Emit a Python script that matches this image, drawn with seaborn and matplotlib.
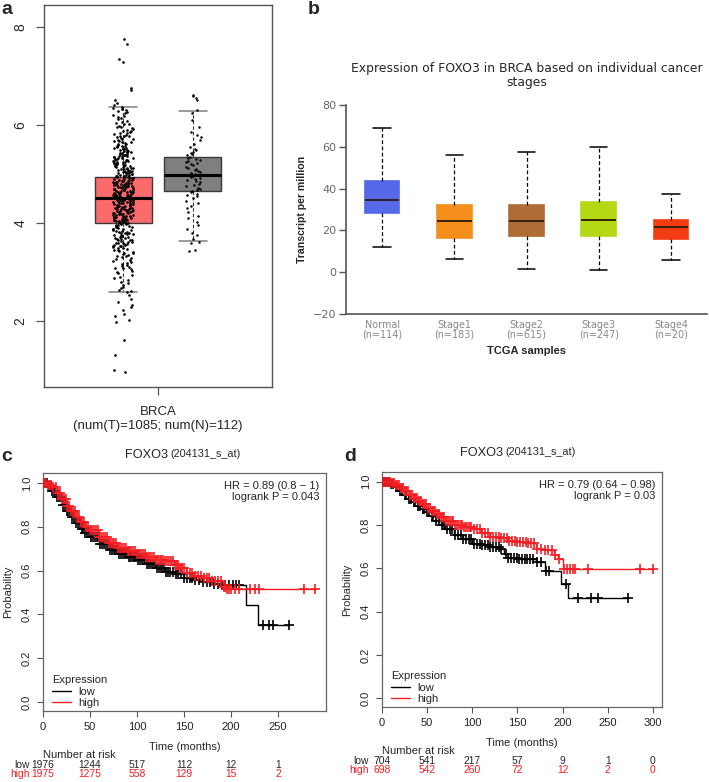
import numpy as np
import pandas as pd
import matplotlib
matplotlib.use("Agg")
import matplotlib.pyplot as plt
import matplotlib.transforms as mtransforms
import seaborn as sns

# ---------------- data ----------------
# panel a: GEPIA box plot (log2(TPM+1)), box stats = [whisker_lo, q1, median, q3, whisker_hi]
a_groups = ["Tumor", "Normal"]
a_colors = ["#fc6b6b", "#7f7f7f"]
tumor_box = [2.58, 4.00, 4.51, 4.94, 6.37]
normal_box = [3.63, 4.65, 4.98, 5.35, 6.29]
a_label = "BRCA\n(num(T)=1085; num(N)=112)"

tumor_pts = [
    7.75, 7.65, 7.35, 7.28, 6.75, 6.72, 6.52, 6.45, 6.41,
    6.37, 6.35, 6.33, 6.31, 6.28, 6.26, 6.24, 6.21, 6.19, 6.16, 6.14, 6.12, 6.09, 6.07, 6.05, 6.03, 6.01,
    5.98, 5.96, 5.95, 5.93, 5.91, 5.89, 5.87, 5.86, 5.84, 5.82, 5.80, 5.78, 5.77, 5.75, 5.73, 5.71, 5.70,
    5.68, 5.66, 5.65, 5.63, 5.61, 5.60, 5.58, 5.57, 5.55, 5.54, 5.52, 5.51,
    5.49, 5.48, 5.46, 5.45, 5.44, 5.42, 5.41, 5.40, 5.38, 5.37, 5.36, 5.34, 5.33, 5.32, 5.30, 5.29, 5.28,
    5.27, 5.25, 5.24, 5.23, 5.22, 5.20, 5.19, 5.18, 5.17, 5.16, 5.14, 5.13, 5.12, 5.11, 5.10, 5.08, 5.07,
    5.06, 5.05, 5.04, 5.03, 5.02, 5.01,
    4.99, 4.98, 4.97, 4.96, 4.95, 4.94, 4.94, 4.93, 4.92, 4.91, 4.90, 4.89, 4.88, 4.88, 4.87, 4.86, 4.85,
    4.84, 4.83, 4.82, 4.82, 4.81, 4.80, 4.79, 4.78, 4.77, 4.76, 4.76, 4.75, 4.74, 4.73, 4.72, 4.71, 4.70,
    4.70, 4.69, 4.68, 4.67, 4.66, 4.65, 4.64, 4.64, 4.63, 4.62, 4.61, 4.60, 4.59, 4.58, 4.58, 4.57, 4.56,
    4.55, 4.54, 4.53, 4.52, 4.52, 4.51, 4.50, 4.50,
    4.49, 4.48, 4.47, 4.46, 4.46, 4.45, 4.44, 4.43, 4.42, 4.41, 4.40, 4.40, 4.39, 4.38, 4.37, 4.36, 4.35,
    4.34, 4.34, 4.33, 4.32, 4.31, 4.30, 4.29, 4.28, 4.28, 4.27, 4.26, 4.25, 4.24, 4.23, 4.22, 4.21, 4.20,
    4.20, 4.19, 4.18, 4.17, 4.16, 4.15, 4.14, 4.13, 4.12, 4.11, 4.10, 4.09, 4.08, 4.07, 4.06, 4.05, 4.04,
    4.03, 4.02, 4.01, 4.00,
    3.99, 3.98, 3.96, 3.95, 3.94, 3.92, 3.91, 3.90, 3.88, 3.87, 3.86, 3.84, 3.83, 3.82, 3.80, 3.79, 3.77,
    3.76, 3.75, 3.73, 3.72, 3.70, 3.69, 3.68, 3.66, 3.65, 3.63, 3.62, 3.60, 3.59, 3.57, 3.56, 3.55, 3.53,
    3.52, 3.50,
    3.48, 3.46, 3.45, 3.43, 3.41, 3.39, 3.37, 3.35, 3.33, 3.31, 3.29, 3.27, 3.25, 3.23, 3.21, 3.19, 3.17,
    3.15, 3.13, 3.11, 3.09, 3.07, 3.05, 3.02, 3.00,
    2.97, 2.94, 2.90, 2.87, 2.84, 2.80, 2.77, 2.74, 2.70, 2.67, 2.64, 2.61, 2.59,
    2.52, 2.45, 2.38, 2.33, 2.28, 2.22, 2.15, 2.10, 2.02, 1.97, 1.60, 1.30, 1.00, 0.95,
    5.885, 5.835, 5.765, 5.715, 5.665, 5.615, 5.565, 5.535, 5.505, 5.475, 5.455, 5.425, 5.395, 5.375,
    5.355, 5.325, 5.305, 5.285, 5.265, 5.245, 5.225, 5.205, 5.185, 5.165, 5.145, 5.125, 5.105, 5.085,
    5.065, 5.045, 5.025, 5.005, 4.985, 4.965, 4.945, 4.925, 4.905, 4.885, 4.865, 4.845, 4.825, 4.805,
    4.785, 4.765, 4.745, 4.725, 4.705, 4.685, 4.665, 4.645, 4.625, 4.605, 4.585, 4.565, 4.545, 4.525,
    4.505, 4.485, 4.465, 4.445, 4.425, 4.405, 4.385, 4.365, 4.345, 4.325, 4.305, 4.285, 4.265, 4.245,
    4.225, 4.205, 4.185, 4.165, 4.145, 4.125, 4.105, 4.085, 4.065, 4.045, 4.025, 4.005, 3.975, 3.945,
    3.915, 3.885, 3.855, 3.825, 3.795, 3.765, 3.735, 3.705, 3.675, 3.645, 3.615, 3.585, 3.555, 3.525,
    3.490, 3.440, 3.380, 3.320,
]
normal_pts = [
    6.62, 6.60, 6.55, 6.52, 6.30, 6.25, 6.10, 5.95, 5.85, 5.80, 5.75, 5.70, 5.62, 5.55, 5.50, 5.48, 5.45,
    5.42, 5.40, 5.38, 5.35, 5.33, 5.30, 5.28, 5.26, 5.24, 5.22, 5.20, 5.18, 5.15, 5.13, 5.10, 5.08, 5.06,
    5.04, 5.02, 5.00, 4.98, 4.96, 4.94, 4.92, 4.90, 4.88, 4.85, 4.83, 4.80, 4.78, 4.75, 4.72, 4.70, 4.68,
    4.66, 4.63, 4.60, 4.57, 4.54, 4.50, 4.45, 4.40, 4.35, 4.30, 4.22, 4.15, 4.10, 4.02, 3.95, 3.88, 3.80,
    3.75, 3.68, 3.62, 3.60, 3.45, 3.42,
]

# panel b: UALCAN stage box plot, stats = [whisker_lo, q1, median, q3, whisker_hi]
b_stages = ["Normal\n(n=114)", "Stage1\n(n=183)", "Stage2\n(n=615)", "Stage3\n(n=247)", "Stage4\n(n=20)"]
b_colors = ["#5468e8", "#f48f1c", "#b06c34", "#b4d814", "#f43c12"]
b_stats = [
    [11.9, 28.3, 34.5, 43.4, 68.9],
    [6.4, 16.4, 24.3, 32.3, 56.1],
    [1.7, 17.3, 24.3, 32.3, 57.4],
    [1.0, 17.3, 25.1, 33.7, 59.9],
    [5.9, 16.1, 21.6, 25.1, 37.2],
]

# panel c: KM curves (time in months, survival probability)
c_low_t = [0, 5, 10, 15, 20, 25, 30, 35, 40, 45, 50, 60, 70, 80, 90, 100, 110, 120, 130, 140, 150,
           160, 170, 180, 190, 216, 229, 262]
c_low_s = [1.0, 0.985, 0.965, 0.935, 0.90, 0.87, 0.845, 0.815, 0.79, 0.77, 0.753, 0.723, 0.696, 0.677,
           0.662, 0.647, 0.632, 0.613, 0.594, 0.583, 0.568, 0.559, 0.548, 0.537, 0.533, 0.443, 0.353, 0.353]
c_high_t = [0, 5, 10, 15, 20, 25, 30, 35, 40, 45, 50, 60, 70, 80, 90, 100, 110, 120, 130, 140, 145,
            152, 160, 170, 180, 190, 195, 289]
c_high_s = [1.0, 0.99, 0.98, 0.955, 0.925, 0.895, 0.87, 0.845, 0.82, 0.80, 0.785, 0.755, 0.728, 0.705,
            0.688, 0.675, 0.663, 0.65, 0.642, 0.625, 0.612, 0.588, 0.575, 0.565, 0.552, 0.525, 0.514, 0.514]
c_low_cens = [2, 4, 6, 8, 10, 12, 13, 15, 17, 19, 21, 23, 25, 27, 29, 31, 33, 35, 37, 39, 41, 43, 45,
              47, 49, 51, 53, 55, 57, 59, 61, 63, 65, 67, 69, 71, 73, 75, 77, 79, 81, 83, 85, 87, 89, 91,
              93, 95, 97, 99, 101, 103, 105, 107, 109, 111, 113, 115, 117, 119, 121, 123, 125, 127, 129,
              131, 133, 135, 138, 141, 144, 147, 150, 153, 156, 159, 162, 166, 170, 174, 178, 182, 186,
              190, 194, 198, 202, 205, 208, 234, 240, 245, 262]
c_high_cens = [1, 3, 5, 7, 9, 11, 14, 16, 18, 20, 22, 24, 26, 28, 30, 32, 34, 36, 38, 40, 42, 44, 46,
               48, 50, 52, 54, 56, 58, 60, 62, 64, 66, 68, 70, 72, 74, 76, 78, 80, 82, 84, 86, 88, 90, 92,
               94, 96, 98, 100, 102, 104, 106, 108, 110, 112, 114, 116, 118, 120, 122, 124, 126, 128, 130,
               132, 134, 136, 138, 140, 142, 144, 146, 148, 150, 153, 156, 159, 162, 165, 168, 171, 174,
               177, 180, 183, 186, 189, 192, 194, 196, 198, 200, 204, 208, 220, 225, 230, 278, 289]
c_hr = "HR = 0.89 (0.8 \u2212 1)\nlogrank P = 0.043"
c_risk_t = [0, 50, 100, 150, 200, 250]
c_risk_low = [1976, 1244, 517, 112, 12, 1]
c_risk_high = [1975, 1275, 558, 129, 15, 2]

# panel d
d_low_t = [0, 5, 10, 15, 20, 25, 30, 35, 40, 45, 50, 55, 60, 65, 70, 80, 90, 100, 110, 120, 130, 135,
           140, 150, 160, 170, 180, 198, 206, 272]
d_low_s = [1.0, 1.0, 0.99, 0.975, 0.959, 0.94, 0.92, 0.905, 0.89, 0.875, 0.86, 0.84, 0.82, 0.80, 0.783,
           0.756, 0.737, 0.714, 0.709, 0.698, 0.69, 0.668, 0.648, 0.645, 0.642, 0.629, 0.588, 0.527,
           0.461, 0.461]
d_high_t = [0, 5, 10, 15, 20, 25, 30, 35, 40, 45, 50, 55, 60, 65, 70, 80, 90, 100, 110, 120, 130, 140,
            150, 160, 170, 180, 190, 195, 200, 300]
d_high_s = [1.0, 1.0, 0.995, 0.985, 0.97, 0.955, 0.94, 0.925, 0.91, 0.895, 0.88, 0.865, 0.85, 0.835,
            0.82, 0.80, 0.79, 0.78, 0.765, 0.745, 0.738, 0.728, 0.72, 0.715, 0.69, 0.683, 0.66, 0.645,
            0.597, 0.597]
d_low_cens = [1, 3, 5, 8, 10, 12, 15, 17, 20, 22, 25, 27, 30, 32, 35, 37, 40, 42, 45, 47, 50, 52, 55,
              57, 60, 63, 66, 69, 72, 75, 78, 81, 84, 87, 90, 93, 96, 99, 102, 105, 108, 111, 114, 117,
              120, 123, 126, 129, 132, 137, 140, 143, 146, 149, 152, 155, 158, 161, 164, 167, 172, 176,
              182, 185, 204, 217, 231, 239, 272]
d_high_cens = [1, 3, 5, 7, 9, 11, 13, 15, 17, 19, 21, 23, 25, 27, 29, 31, 33, 35, 37, 39, 41, 43, 45,
               47, 49, 51, 53, 55, 57, 59, 61, 63, 65, 67, 69, 71, 73, 75, 77, 79, 81, 83, 85, 87, 89, 91,
               93, 95, 97, 99, 102, 105, 108, 111, 114, 117, 120, 123, 126, 129, 132, 135, 138, 141, 144,
               147, 150, 153, 156, 159, 162, 165, 168, 172, 176, 180, 184, 188, 192, 196, 202, 205, 208,
               211, 214, 228, 286, 300]
d_hr = "HR = 0.79 (0.64 \u2212 0.98)\nlogrank P = 0.03"
d_risk_t = [0, 50, 100, 150, 200, 250, 300]
d_risk_low = [704, 541, 217, 57, 9, 1, 0]
d_risk_high = [698, 542, 260, 72, 12, 2, 0]

RED = "#f41e24"
NARROW = ["Liberation Sans Narrow", "Liberation Sans", "DejaVu Sans"]

# ---------------- figure ----------------
sns.set_style("ticks")
plt.rcParams["font.family"] = ["Liberation Sans", "DejaVu Sans"]
W, H = 709, 782
fig = plt.figure(figsize=(W / 100, H / 100), dpi=100)


def axes_px(l, t, r, b):
    return fig.add_axes([l / W, 1 - b / H, (r - l) / W, (b - t) / H])


def text_px(x, y, s, **kw):
    fig.text(x / W, 1 - y / H, s, **kw)


# ---- panel a ----
ax = axes_px(44, 5, 272, 387)
df_a = pd.DataFrame({"group": np.repeat(a_groups, 5), "expr": tumor_box + normal_box})
sns.boxplot(data=df_a, x="group", y="expr", hue="group", order=a_groups, hue_order=a_groups,
            palette=a_colors, saturation=1, legend=False, width=0.815, whis=(0, 100),
            showfliers=False, linecolor="#3a3a3a", linewidth=1,
            medianprops=dict(color="black", lw=2.2),
            whiskerprops=dict(ls=(0, (3, 2)), color="#333333", lw=0.8),
            capprops=dict(color="#8a8a8a", lw=1.2), ax=ax)
np.random.seed(3)
df_t = pd.DataFrame({"group": "Tumor", "expr": tumor_pts})
df_n = pd.DataFrame({"group": "Normal", "expr": normal_pts})
sns.stripplot(data=df_t, x="group", y="expr", order=a_groups, jitter=0.15, size=1.9,
              color="black", linewidth=0, zorder=3, ax=ax)
sns.stripplot(data=df_n, x="group", y="expr", order=a_groups, jitter=0.11, size=1.8,
              color="black", linewidth=0, zorder=3, ax=ax)
ax.set_xlim(-1.13, 2.13)
ax.set_ylim(0.65, 8.45)
ax.set_xticks([0.5], [a_label])
ax.set_yticks([2, 4, 6, 8], ["2", "4", "6", "8"], rotation=90, va="center")
ax.tick_params(axis="x", length=6, width=0.9, color="#555555", labelsize=9.5, pad=8)
ax.tick_params(axis="y", length=6, width=0.9, color="#555555", labelsize=10, pad=6)
for s in ax.spines.values():
    s.set_color("#555555")
    s.set_linewidth(1.0)
ax.set_xlabel("")
ax.set_ylabel("")

# ---- panel b ----
ax = axes_px(346, 105, 707, 314)
df_b = pd.DataFrame({"stage": np.repeat(b_stages, 5), "tpm": np.concatenate(b_stats)})
sns.boxplot(data=df_b, x="stage", y="tpm", hue="stage", order=b_stages, hue_order=b_stages,
            palette=b_colors, saturation=1, legend=False, width=0.48, whis=(0, 100),
            showfliers=False, linecolor="black", linewidth=1,
            medianprops=dict(color="#2a1a12", lw=1.3),
            whiskerprops=dict(ls=(0, (3, 2)), color="black", lw=0.9),
            capprops=dict(color="black", lw=1.1), ax=ax)
for p in ax.patches:
    p.set_edgecolor(p.get_facecolor())
    p.set_linewidth(1.2)
ax.set_xlim(-0.5, 4.5)
ax.set_ylim(-20, 80)
ax.set_yticks([-20, 0, 20, 40, 60, 80])
sns.despine(ax=ax)
for s in ["left", "bottom"]:
    ax.spines[s].set_color("#555555")
    ax.spines[s].set_linewidth(1.2)
ax.tick_params(axis="y", length=5, width=1, color="#555555", labelsize=8, labelcolor="#666666", pad=2)
ax.tick_params(axis="x", length=0, labelsize=6.9, labelcolor="#888888", pad=4)
for lab in ax.get_xticklabels() + ax.get_yticklabels():
    lab.set_family("DejaVu Sans")
    lab.set_linespacing(1.05)
ax.set_xlabel("TCGA samples", fontsize=8, fontweight="bold", labelpad=4)
ax.set_ylabel("Transcript per million", fontsize=7.6, fontweight="bold", labelpad=4)
ax.set_title("Expression of FOXO3 in BRCA based on individual cancer\nstages",
             fontsize=8.9, family="DejaVu Sans", pad=14, linespacing=1.1)


# ---- panels c, d ----
def km_panel(box, lo, hi, xmax, xticks, hr, risk, title_px):
    ax = axes_px(*box)
    for t, s, cens, col, lab in [(lo[0], lo[1], lo[2], "black", "low"),
                                 (hi[0], hi[1], hi[2], RED, "high")]:
        sns.lineplot(x=t, y=s, ax=ax, color=col, lw=1.0, drawstyle="steps-post",
                     estimator=None, sort=False, label=lab)
        idx = np.searchsorted(t, cens, side="right") - 1
        sns.scatterplot(x=cens, y=np.asarray(s)[idx], ax=ax, marker="+", s=42, color=col,
                        linewidth=1.2, legend=False, zorder=3)
    ax.set_xlim(0, xmax)
    ax.set_ylim(-0.04, 1.045)
    ax.set_xticks(xticks)
    ax.set_yticks([0, 0.2, 0.4, 0.6, 0.8, 1.0], ["0.0", "0.2", "0.4", "0.6", "0.8", "1.0"],
                  rotation=90, va="center")
    ax.tick_params(length=4, width=0.8, color="#555555", labelsize=8, labelcolor="#222222", pad=4)
    for lab in ax.get_xticklabels() + ax.get_yticklabels():
        lab.set_family(NARROW)
    for sp in ax.spines.values():
        sp.set_color("#666666")
        sp.set_linewidth(0.9)
    ax.set_ylabel("Probability", fontsize=8, labelpad=6, family=NARROW)
    ax.set_xlabel("Time (months)", fontsize=8, labelpad=7, family=NARROW)
    ax.text(0.977, 0.965, hr, transform=ax.transAxes, ha="right", va="top", fontsize=8,
            linespacing=1.1, family=NARROW)
    leg = ax.legend(title="Expression", loc="lower left", bbox_to_anchor=(0.0, -0.025),
                    frameon=False, prop=dict(family=NARROW, size=8), handlelength=1.7,
                    handletextpad=0.7, labelspacing=0.12, borderpad=0.3)
    leg.get_title().set_family(NARROW)
    leg.get_title().set_fontsize(8)
    leg._legend_box.align = "left"
    # title
    tx, ty = title_px
    text_px(tx, ty, "FOXO3", ha="right", va="center", fontsize=9.2, family=NARROW)
    text_px(tx + 2, ty - 1, "(204131_s_at)", ha="left", va="center", fontsize=7.8, family=NARROW)
    # number at risk table
    tr = mtransforms.blended_transform_factory(ax.transData, fig.transFigure)
    rt, rlow, rhigh = risk
    y0 = 1 - box[3] / H
    ax.text(0, y0 - 44 / H, "Number at risk", transform=tr, ha="left", va="center", fontsize=8,
            family=NARROW)
    for x, v in zip(rt, rlow):
        ax.text(x, y0 - 54 / H, str(v), transform=tr, ha="center", va="center", fontsize=7.4,
                family=NARROW)
    for x, v in zip(rt, rhigh):
        ax.text(x, y0 - 63 / H, str(v), transform=tr, ha="center", va="center", fontsize=7.4,
                color=RED, family=NARROW)
    lx = (box[0] - 13) / W
    fig.text(lx, y0 - 54 / H, "low", ha="right", va="center", fontsize=7.4, family=NARROW)
    fig.text(lx, y0 - 63 / H, "high", ha="right", va="center", fontsize=7.4, color=RED,
             family=NARROW)
    return ax


km_panel((43, 473, 326, 711), (c_low_t, c_low_s, c_low_cens), (c_high_t, c_high_s, c_high_cens),
         301, [0, 50, 100, 150, 200, 250], c_hr, (c_risk_t, c_risk_low, c_risk_high), (168, 455))
km_panel((382, 472, 662, 707), (d_low_t, d_low_s, d_low_cens), (d_high_t, d_high_s, d_high_cens),
         310, [0, 50, 100, 150, 200, 250, 300], d_hr, (d_risk_t, d_risk_low, d_risk_high), (503, 453))

# panel letters
for x, y, s in [(7, 10, "a"), (314, 10, "b"), (7, 456, "c"), (350, 456, "d")]:
    text_px(x, y, s, ha="center", va="center", fontsize=14, fontweight="bold")

fig.savefig("out.png", dpi=100)
